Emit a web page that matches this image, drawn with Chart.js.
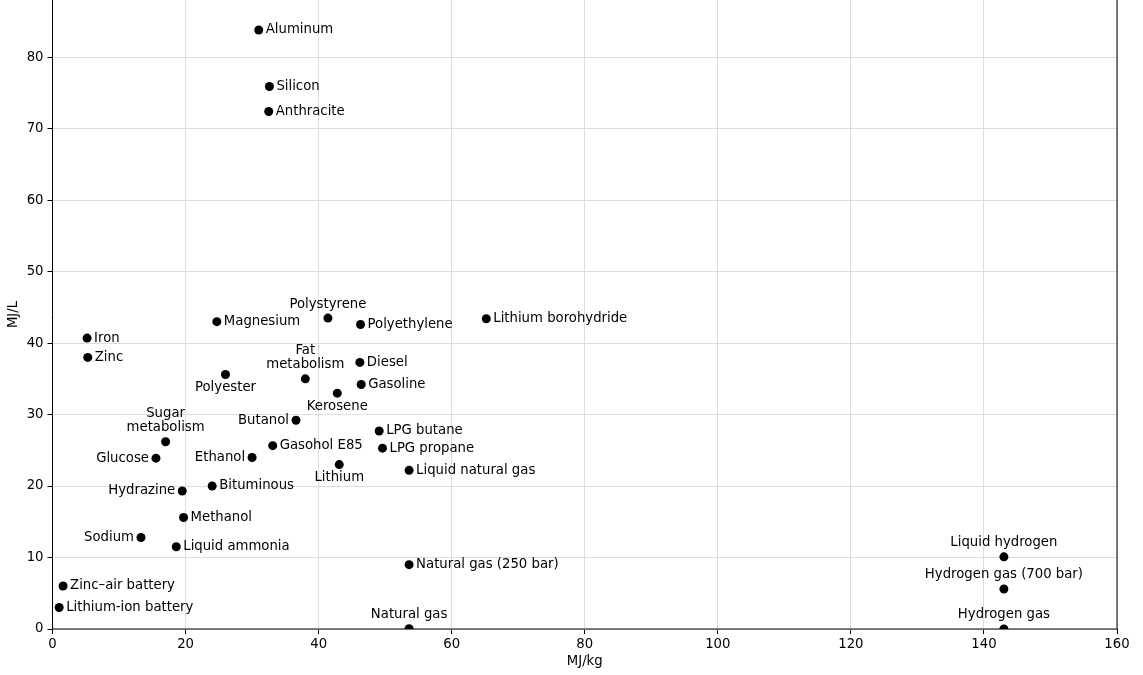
<!DOCTYPE html>
<html>
<head>
<meta charset="utf-8">
<script src="https://cdn.jsdelivr.net/npm/chart.js@4.4.0/dist/chart.umd.min.js"></script>
<style>
  html, body { margin: 0; padding: 0; background: #fff; }
  #wrap { width: 1143px; height: 675px; }
</style>
</head>
<body>
<div id="wrap"><canvas id="myChart" width="1143" height="675"></canvas></div>
<script>
// energy density: gravimetric (MJ/kg) vs volumetric (MJ/L)
const names = [
    "Aluminum", "Silicon", "Anthracite", "Polystyrene", "Magnesium",
    "Polyethylene", "Lithium borohydride", "Iron", "Zinc", "Fat\nmetabolism",
    "Diesel", "Polyester", "Gasoline", "Kerosene", "Butanol",
    "Sugar\nmetabolism", "LPG butane", "Gasohol E85", "LPG propane", "Glucose",
    "Ethanol", "Lithium", "Liquid natural gas", "Hydrazine", "Bituminous",
    "Methanol", "Sodium", "Liquid ammonia", "Natural gas (250 bar)", "Liquid hydrogen",
    "Hydrogen gas (700 bar)", "Hydrogen gas", "Natural gas", "Zinc\u2013air battery", "Lithium-ion battery",
];
const mjPerKg = [
    31.0, 32.6, 32.5, 41.4, 24.7,
    46.3, 65.2, 5.2, 5.3, 38.0,
    46.2, 26.0, 46.4, 42.8, 36.6,
    17.0, 49.1, 33.1, 49.6, 15.55,
    30.0, 43.1, 53.6, 19.5, 24.0,
    19.7, 13.3, 18.6, 53.6, 143.0,
    143.0, 143.0, 53.6, 1.59, 1.0,
];
const mjPerL = [
    83.8, 75.9, 72.4, 43.5, 43.0,
    42.6, 43.4, 40.7, 38.0, 35.0,
    37.3, 35.6, 34.2, 33.0, 29.2,
    26.2, 27.7, 25.65, 25.3, 23.9,
    24.0, 23.0, 22.2, 19.3, 20.0,
    15.6, 12.8, 11.5, 9.0, 10.1,
    5.6, 0.01, 0.04, 6.02, 3.0,
];
const xTicks = [0, 20, 40, 60, 80, 100, 120, 140, 160];
const yTicks = [0, 10, 20, 30, 40, 50, 60, 70, 80];

// where each label sits relative to its point
const labelSide = {
    "Polystyrene": "above", "Fat\nmetabolism": "above", "Sugar\nmetabolism": "above",
    "Liquid hydrogen": "above", "Hydrogen gas (700 bar)": "above",
    "Hydrogen gas": "above", "Natural gas": "above",
    "Polyester": "below", "Kerosene": "below", "Lithium": "below",
    "Butanol": "left", "Glucose": "left", "Ethanol": "left",
    "Hydrazine": "left", "Sodium": "left",
};

const FONT = "'DejaVu Sans', 'Liberation Sans', sans-serif";

const pointLabels = {
    id: "pointLabels",
    afterDatasetsDraw(chart) {
        const ctx = chart.ctx;
        const meta = chart.getDatasetMeta(0);
        ctx.save();
        ctx.font = "13.25px " + FONT;
        ctx.fillStyle = "#000";
        meta.data.forEach((pt, i) => {
            const side = labelSide[names[i]] || "right";
            const lines = names[i].split("\n");
            if (side === "right" || side === "left") {
                ctx.textAlign = side === "right" ? "left" : "right";
                ctx.textBaseline = "middle";
                ctx.fillText(lines[0], pt.x + (side === "right" ? 7 : -7), pt.y);
            } else {
                ctx.textAlign = "center";
                ctx.textBaseline = "middle";
                lines.forEach((ln, k) => {
                    let y;
                    if (side === "above") y = pt.y - 14 - (lines.length - 1 - k) * 14;
                    else y = pt.y + 13 + k * 14;
                    ctx.fillText(ln, pt.x, y);
                });
            }
        });
        // axes spines (top one lies above the canvas)
        const a = chart.chartArea;
        ctx.strokeStyle = "#000";
        ctx.lineWidth = 1;
        ctx.beginPath();
        ctx.moveTo(a.left, a.top);
        ctx.lineTo(a.left, a.bottom);
        ctx.lineTo(a.right, a.bottom);
        ctx.lineTo(a.right, a.top);
        ctx.stroke();
        ctx.restore();
    },
};

Chart.defaults.font.family = FONT;
Chart.defaults.font.size = 13.25;
Chart.defaults.color = "#000";

const ctx = document.getElementById("myChart").getContext("2d");
const myChart = new Chart(ctx, {
    type: "scatter",
    data: {
        datasets: [{
            data: names.map((n, i) => ({ x: mjPerKg[i], y: mjPerL[i] })),
            backgroundColor: "#000",
            borderWidth: 0,
            pointRadius: 4.5,
            pointHoverRadius: 4.5,
            clip: 0,
        }],
    },
    options: {
        responsive: false,
        animation: false,
        devicePixelRatio: 1,
        layout: { autoPadding: false, padding: { top: -1.6, right: 26, bottom: 0, left: 0 } },
        plugins: {
            legend: { display: false },
            tooltip: { enabled: false },
        },
        scales: {
            x: {
                type: "linear",
                min: 0,
                max: 160,
                afterBuildTicks: (s) => { s.ticks = xTicks.map((v) => ({ value: v })); },
                afterFit: (s) => { s.height = 46; s.paddingLeft = 0; s.paddingRight = 0; },
                ticks: { padding: 3, maxRotation: 0 },
                grid: { color: "#dddddd", lineWidth: 1, tickLength: 5, tickColor: "#000" },
                border: { display: false },
                title: { display: true, text: "MJ/kg", padding: { top: 0, bottom: 5 } },
            },
            y: {
                type: "linear",
                min: 0,
                max: 88,
                afterBuildTicks: (s) => { s.ticks = yTicks.map((v) => ({ value: v })); },
                afterFit: (s) => { s.width = 52.5; s.paddingTop = 0; s.paddingBottom = 0; },
                ticks: { padding: 4 },
                grid: { color: "#dddddd", lineWidth: 1, tickLength: 5, tickColor: "#000" },
                border: { display: false },
                title: { display: true, text: "MJ/L", padding: { top: 6, bottom: 0 } },
            },
        },
    },
    plugins: [pointLabels],
});
</script>
</body>
</html>
